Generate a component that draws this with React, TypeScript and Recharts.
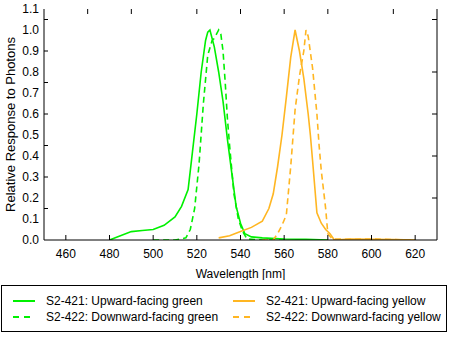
import React from "react";
import { LineChart, Line, XAxis, YAxis } from "recharts";

// wavelength [nm] and relative response values per sensor
const upGreenNm = [480, 485, 490, 495, 500, 505, 510, 513, 516, 518, 520, 522, 524, 525, 526, 528, 530, 532, 534, 536, 538, 540, 542, 545, 550, 560, 570, 580];
const upGreenVal = [0.0, 0.02, 0.04, 0.045, 0.05, 0.07, 0.11, 0.16, 0.24, 0.42, 0.6, 0.8, 0.95, 0.99, 1.0, 0.92, 0.8, 0.66, 0.48, 0.32, 0.16, 0.08, 0.03, 0.015, 0.01, 0.005, 0.003, 0.0];

const downGreenNm = [500, 510, 515, 517, 519, 521, 523, 525, 527, 528, 530, 531, 532, 533, 534, 535, 537, 539, 541, 543, 550, 560];
const downGreenVal = [0.0, 0.0, 0.01, 0.05, 0.15, 0.36, 0.65, 0.88, 0.95, 0.96, 1.0, 0.98, 0.9, 0.75, 0.58, 0.45, 0.22, 0.1, 0.04, 0.005, 0.0, 0.0];

const upYellowNm = [530, 535, 540, 545, 550, 553, 555, 557, 559, 561, 563, 565, 567, 569, 571, 572, 573, 575, 577, 579, 581, 583, 590, 600, 610, 620];
const upYellowVal = [0.01, 0.02, 0.04, 0.06, 0.09, 0.15, 0.22, 0.35, 0.5, 0.68, 0.87, 1.0, 0.9, 0.77, 0.6, 0.5, 0.38, 0.13, 0.08, 0.05, 0.03, 0.0, 0.005, 0.003, 0.002, 0.0];

const downYellowNm = [550, 555, 557, 559, 561, 563, 565, 567, 569, 570, 571, 573, 575, 576, 577, 579, 580, 582, 590, 600, 610, 620];
const downYellowVal = [0.0, 0.0, 0.03, 0.07, 0.12, 0.35, 0.62, 0.78, 0.9, 1.0, 0.97, 0.82, 0.6, 0.45, 0.33, 0.15, 0.03, 0.005, 0.003, 0.005, 0.002, 0.0];

const xTicks = [460, 480, 500, 520, 540, 560, 580, 600, 620];
const xMinorTicks = [460, 470, 480, 490, 500, 510, 520, 530, 540, 550, 560, 570, 580, 590, 600, 610, 620];
const xTopTicks = [460, 470, 490, 510, 520, 540, 550, 560, 570, 580, 600, 610];
const yTicks = [0, 0.1, 0.2, 0.3, 0.4, 0.5, 0.6, 0.7, 0.8, 0.9, 1.0, 1.1];
const yMinorTicks = [0.05, 0.1, 0.15, 0.2, 0.25, 0.3, 0.35, 0.4, 0.45, 0.5, 0.55, 0.6, 0.65, 0.7, 0.75, 0.8, 0.85, 0.9, 0.95, 1.0, 1.05];
const yRightTicks = [0.1, 0.2, 0.3, 0.4, 0.5, 0.6, 0.7, 0.8, 0.95, 1.05];

const GREEN = "#00f000";
const YELLOW = "#ffb622";
const FONT = "'Liberation Sans', Arial, sans-serif";

const zip = (xs: number[], ys: number[]) => xs.map((nm, i) => ({ nm, v: ys[i] }));

const series = [
  { name: "S2-421: Upward-facing green", color: GREEN, dash: undefined, data: zip(upGreenNm, upGreenVal) },
  { name: "S2-422: Downward-facing green", color: GREEN, dash: "6 4", data: zip(downGreenNm, downGreenVal) },
  { name: "S2-421: Upward-facing yellow", color: YELLOW, dash: undefined, data: zip(upYellowNm, upYellowVal) },
  { name: "S2-422: Downward-facing yellow", color: YELLOW, dash: "6 4", data: zip(downYellowNm, downYellowVal) },
];

// tick marks only, no label text
const NoLabel = () => <g />;

function LegendItem({ s }: { s: (typeof series)[number] }) {
  return (
    <div style={{ display: "flex", alignItems: "center", height: 16 }}>
      <svg width={22} height={4} style={{ marginLeft: 11, marginRight: 11 }}>
        <line x1={0} y1={2} x2={22} y2={2} stroke={s.color} strokeWidth={2} strokeDasharray={s.dash ? "6 5" : undefined} />
      </svg>
      <span>{s.name}</span>
    </div>
  );
}

export default function App() {
  return (
    <div style={{ position: "absolute", left: 0, top: 0, width: 450, height: 337, background: "#fff", fontFamily: FONT }}>
      <LineChart width={450} height={280} margin={{ top: 9, right: 13, bottom: 0, left: 0 }}>
        <XAxis
          xAxisId="main"
          dataKey="nm"
          type="number"
          domain={[450, 630]}
          ticks={xTicks}
          allowDataOverflow
          tickLine={false}
          tickSize={0}
          tickMargin={9}
          height={40}
          stroke="#000"
          tick={{ fill: "#000", fontSize: 12, fontFamily: FONT }}
          label={{ value: "Wavelength [nm]", position: "insideBottom", offset: 2, fill: "#000", fontSize: 12, fontFamily: FONT }}
        />
        <XAxis
          xAxisId="minor"
          dataKey="nm"
          type="number"
          domain={[450, 630]}
          ticks={xMinorTicks}
          allowDataOverflow
          mirror
          axisLine={false}
          tickSize={5}
          height={1}
          stroke="#000"
          tick={NoLabel}
        />
        <XAxis
          xAxisId="top"
          orientation="top"
          dataKey="nm"
          type="number"
          domain={[450, 630]}
          ticks={xTopTicks}
          allowDataOverflow
          mirror
          axisLine={false}
          tickSize={5}
          height={1}
          stroke="#000"
          tick={NoLabel}
        />
        <YAxis
          yAxisId="main"
          type="number"
          domain={[0, 1.1]}
          ticks={yTicks}
          allowDataOverflow
          tickLine={false}
          tickSize={0}
          tickMargin={5}
          width={44}
          stroke="#000"
          tickFormatter={(v: number) => v.toFixed(1)}
          tick={{ fill: "#000", fontSize: 12, fontFamily: FONT }}
          label={{ value: "Relative Response to Photons", angle: -90, position: "insideLeft", offset: 10, style: { textAnchor: "middle" }, fill: "#000", fontSize: 13, fontFamily: FONT }}
        />
        <YAxis
          yAxisId="minor"
          type="number"
          domain={[0, 1.1]}
          ticks={yMinorTicks}
          allowDataOverflow
          mirror
          axisLine={false}
          tickSize={4}
          width={1}
          stroke="#000"
          tick={NoLabel}
        />
        <YAxis
          yAxisId="right"
          orientation="right"
          type="number"
          domain={[0, 1.1]}
          ticks={yRightTicks}
          allowDataOverflow
          mirror
          tickSize={5}
          width={1}
          stroke="#000"
          tick={NoLabel}
        />
        {/* invisible carriers so the tick-only axes get drawn */}
        <Line xAxisId="minor" yAxisId="minor" data={series[0].data} dataKey="v" stroke="none" dot={false} activeDot={false} isAnimationActive={false} />
        <Line xAxisId="top" yAxisId="right" data={series[0].data} dataKey="v" stroke="none" dot={false} activeDot={false} isAnimationActive={false} />
        {series.map((s) => (
          <Line
            key={s.name}
            xAxisId="main"
            yAxisId="main"
            data={s.data}
            dataKey="v"
            type="linear"
            stroke={s.color}
            strokeWidth={1.6}
            strokeDasharray={s.dash}
            dot={false}
            activeDot={false}
            isAnimationActive={false}
          />
        ))}
      </LineChart>
      <div
        style={{
          position: "absolute",
          left: 1,
          top: 285,
          width: 444,
          height: 45,
          border: "1px solid #000",
          fontSize: 12,
          color: "#000",
          display: "grid",
          gridTemplateColumns: "220px 224px",
          alignContent: "center",
          rowGap: 0,
        }}
      >
        {[series[0], series[2], series[1], series[3]].map((s) => (
          <LegendItem key={s.name} s={s} />
        ))}
      </div>
    </div>
  );
}
